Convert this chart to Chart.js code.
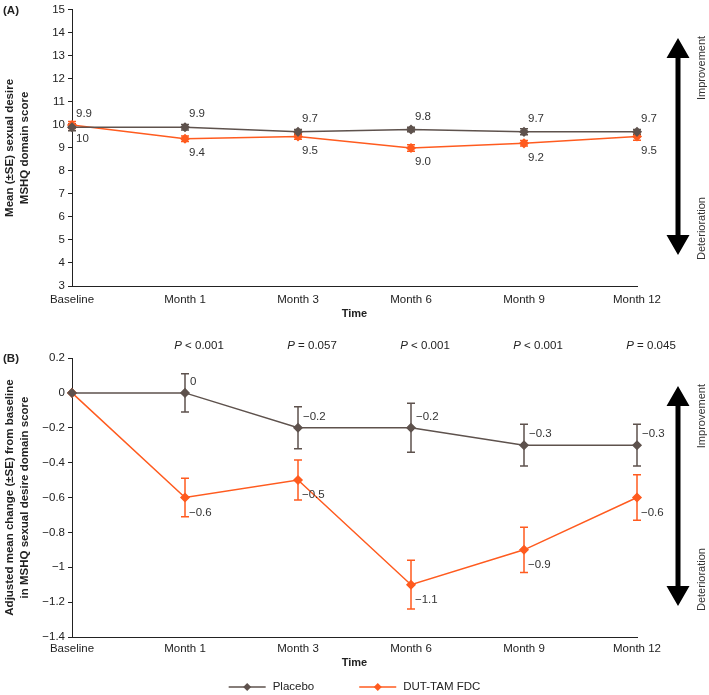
<!DOCTYPE html>
<html>
<head>
<meta charset="utf-8">
<script src="https://cdn.jsdelivr.net/npm/chart.js@4.4.0/dist/chart.umd.min.js"></script>
<style>
  html, body { margin: 0; padding: 0; background: #fff; overflow: hidden; }
  #wrap { position: relative; width: 709px; height: 695px; }
  canvas { position: absolute; left: 0; }
  #chartA { top: 0; }
  #chartB { top: 330px; }
</style>
</head>
<body>
<div id="wrap">
  <canvas id="chartA" width="709" height="330"></canvas>
  <canvas id="chartB" width="709" height="365"></canvas>
</div>
<script>
const timepoints = ['Baseline', 'Month 1', 'Month 3', 'Month 6', 'Month 9', 'Month 12'];

// (A) mean sexual desire score
const placeboMeanA = [9.9, 9.9, 9.7, 9.8, 9.7, 9.7];
const placeboSeA = [0.15, 0.12, 0.1, 0.1, 0.13, 0.1];
const placeboLabelsA = ['9.9', '9.9', '9.7', '9.8', '9.7', '9.7'];
const dutMeanA = [10, 9.4, 9.5, 9.0, 9.2, 9.5];
const dutSeA = [0.15, 0.12, 0.12, 0.14, 0.12, 0.16];
const dutLabelsA = ['10', '9.4', '9.5', '9.0', '9.2', '9.5'];

// (B) adjusted mean change from baseline
const placeboChangeB = [0, 0, -0.2, -0.2, -0.3, -0.3];
const placeboSeB = [0, 0.11, 0.12, 0.14, 0.12, 0.12];
const placeboLabelsB = ['', '0', '−0.2', '−0.2', '−0.3', '−0.3'];
const dutChangeB = [0, -0.6, -0.5, -1.1, -0.9, -0.6];
const dutSeB = [0, 0.11, 0.115, 0.14, 0.13, 0.13];
const dutLabelsB = ['', '−0.6', '−0.5', '−1.1', '−0.9', '−0.6'];
const pValuesB = ['', '< 0.001', '= 0.057', '< 0.001', '< 0.001', '= 0.045'];

const seriesNames = ['Placebo', 'DUT-TAM FDC'];

const COLOR_PLACEBO = '#5e524d';
const COLOR_DUT = '#ff5b1f';
const INK = '#222';
const FONT = '"Liberation Sans", Arial, Helvetica, sans-serif';

// vertical SE bars behind the points
const errorBars = {
  id: 'errorBars',
  beforeDatasetsDraw(chart) {
    const { ctx } = chart;
    const y = chart.scales.y;
    chart.data.datasets.forEach((ds, i) => {
      const meta = chart.getDatasetMeta(i);
      ctx.save();
      ctx.strokeStyle = ds.borderColor;
      ctx.lineWidth = 1.5;
      meta.data.forEach((pt, j) => {
        const e = ds.se[j];
        if (!e) return;
        const top = y.getPixelForValue(ds.data[j] + e);
        const bot = y.getPixelForValue(ds.data[j] - e);
        ctx.beginPath();
        ctx.moveTo(pt.x, top); ctx.lineTo(pt.x, bot);
        ctx.moveTo(pt.x - 4, top); ctx.lineTo(pt.x + 4, top);
        ctx.moveTo(pt.x - 4, bot); ctx.lineTo(pt.x + 4, bot);
        ctx.stroke();
      });
      ctx.restore();
    });
  }
};

// numeric labels next to each point
const valueLabels = {
  id: 'valueLabels',
  afterDatasetsDraw(chart) {
    const { ctx } = chart;
    chart.data.datasets.forEach((ds, i) => {
      const meta = chart.getDatasetMeta(i);
      ctx.save();
      ctx.font = '11.5px ' + FONT;
      ctx.fillStyle = '#333';
      ctx.textAlign = 'left';
      ctx.textBaseline = 'middle';
      meta.data.forEach((pt, j) => {
        const txt = ds.valueLabels[j];
        if (!txt) return;
        ctx.fillText(txt, pt.x + ds.labelDx, pt.y + ds.labelDy);
      });
      ctx.restore();
    });
  }
};

// P values above the plot
const pValues = {
  id: 'pValues',
  afterDraw(chart, args, opts) {
    if (!opts.values) return;
    const { ctx, chartArea } = chart;
    const meta = chart.getDatasetMeta(0);
    ctx.save();
    ctx.fillStyle = INK;
    ctx.textBaseline = 'middle';
    ctx.textAlign = 'left';
    opts.values.forEach((txt, j) => {
      if (!txt) return;
      const italic = 'italic 11.5px ' + FONT;
      const normal = '11.5px ' + FONT;
      ctx.font = italic;
      const wP = ctx.measureText('P ').width;
      ctx.font = normal;
      const wR = ctx.measureText(txt).width;
      const cx = meta.data[j].x + 14;
      const x0 = cx - (wP + wR) / 2;
      const y = chartArea.top - 12;
      ctx.font = italic;
      ctx.fillText('P ', x0, y);
      ctx.font = normal;
      ctx.fillText(txt, x0 + wP, y);
    });
    ctx.restore();
  }
};

// Improvement / Deterioration double arrow
const arrowGuide = {
  id: 'arrowGuide',
  afterDraw(chart) {
    const { ctx, chartArea } = chart;
    const x = chartArea.right + 41;
    const top = chartArea.top + 28;
    const bot = chartArea.bottom - 31;
    const hw = 11.5, hh = 20;
    ctx.save();
    ctx.fillStyle = '#000';
    ctx.fillRect(x - 2.5, top + hh - 1, 5, bot - top - 2 * hh + 2);
    ctx.beginPath();
    ctx.moveTo(x, top); ctx.lineTo(x + hw, top + hh); ctx.lineTo(x - hw, top + hh); ctx.closePath();
    ctx.moveTo(x, bot); ctx.lineTo(x + hw, bot - hh); ctx.lineTo(x - hw, bot - hh); ctx.closePath();
    ctx.fill();
    ctx.font = '11px ' + FONT;
    ctx.fillStyle = '#333';
    ctx.textBaseline = 'middle';
    const tx = chartArea.right + 65;
    ctx.translate(tx, 0);
    ctx.rotate(-Math.PI / 2);
    ctx.textAlign = 'right';
    ctx.fillText('Improvement', -(top - 2), 0);
    ctx.textAlign = 'left';
    ctx.fillText('Deterioration', -(bot + 5), 0);
    ctx.restore();
  }
};

// (A) / (B) tags
const panelTag = {
  id: 'panelTag',
  afterDraw(chart, args, opts) {
    const { ctx, chartArea } = chart;
    ctx.save();
    ctx.font = 'bold 11.5px ' + FONT;
    ctx.fillStyle = INK;
    ctx.textBaseline = 'middle';
    ctx.fillText(opts.text, 3, chartArea.top + 1);
    ctx.restore();
  }
};

// line + diamond legend under panel B
const lineLegend = {
  id: 'lineLegend',
  afterDraw(chart, args, opts) {
    if (!opts.show) return;
    const { ctx } = chart;
    ctx.save();
    ctx.font = '11.5px ' + FONT;
    ctx.textBaseline = 'middle';
    const sw = 37, gapText = 7, gapItem = 45;
    const items = chart.data.datasets.map(ds => ({ ds, w: ctx.measureText(ds.label).width }));
    const total = items.reduce((s, it) => s + sw + gapText + it.w, 0) + gapItem * (items.length - 1);
    let x = opts.cx - total / 2;
    const y = opts.y;
    items.forEach(it => {
      ctx.strokeStyle = it.ds.borderColor;
      ctx.fillStyle = it.ds.borderColor;
      ctx.lineWidth = 1.5;
      ctx.beginPath();
      ctx.moveTo(x, y); ctx.lineTo(x + sw, y);
      ctx.stroke();
      const mx = x + sw / 2;
      ctx.beginPath();
      ctx.moveTo(mx, y - 4); ctx.lineTo(mx + 4, y); ctx.lineTo(mx, y + 4); ctx.lineTo(mx - 4, y); ctx.closePath();
      ctx.fill();
      ctx.fillStyle = INK;
      ctx.fillText(it.ds.label, x + sw + gapText, y);
      x += sw + gapText + it.w + gapItem;
    });
    ctx.restore();
  }
};

function makeDataset(label, data, se, labels, color, dy) {
  return {
    label: label,
    data: data,
    se: se,
    valueLabels: labels,
    labelDx: dy.dx,
    labelDy: dy.dy,
    borderColor: color,
    backgroundColor: color,
    borderWidth: 1.5,
    pointStyle: 'rectRot',
    pointRadius: 4,
    pointHoverRadius: 4,
    tension: 0
  };
}

function makeChart(id, cfg) {
  return new Chart(document.getElementById(id), {
    type: 'line',
    data: { labels: timepoints, datasets: cfg.datasets },
    plugins: [errorBars, valueLabels, pValues, arrowGuide, panelTag, lineLegend],
    options: {
      responsive: false,
      animation: false,
      layout: { padding: { top: cfg.padTop, right: 72, left: 0, bottom: 0 } },
      plugins: {
        legend: { display: false },
        tooltip: { enabled: false },
        pValues: { values: cfg.pValues },
        panelTag: { text: cfg.tag },
        lineLegend: { show: cfg.legend, cx: 354.5, y: 357 }
      },
      scales: {
        x: {
          offset: false,
          grid: { display: false, drawTicks: false },
          border: { display: true, color: INK, width: 1 },
          ticks: { color: INK, font: { family: FONT, size: 11.5 }, padding: cfg.xTickPad, maxRotation: 0, autoSkip: false },
          title: { display: true, text: 'Time', color: INK, font: { family: FONT, size: 11, weight: 'bold' }, padding: { top: 0, bottom: cfg.titlePad } },
          afterFit(scale) { scale.height = cfg.xHeight; }
        },
        y: {
          min: cfg.yMin,
          max: cfg.yMax,
          ticks: {
            stepSize: cfg.yStep,
            color: INK,
            padding: 3,
            font: { family: FONT, size: 11.5 },
            callback: v => String(Math.round(v * 10) / 10).replace('-', '−')
          },
          grid: { drawOnChartArea: false, drawTicks: true, tickLength: 4, color: INK },
          border: { display: true, color: INK, width: 1 },
          title: { display: true, text: cfg.yTitle, color: INK, font: { family: FONT, size: 11.5, weight: 'bold', lineHeight: 1.25 }, padding: { top: 3, bottom: 0 } },
          afterFit(scale) { scale.width = 72; }
        }
      }
    }
  });
}

makeChart('chartA', {
  datasets: [
    makeDataset(seriesNames[0], placeboMeanA, placeboSeA, placeboLabelsA, COLOR_PLACEBO, { dx: 4, dy: -13 }),
    makeDataset(seriesNames[1], dutMeanA, dutSeA, dutLabelsA, COLOR_DUT, { dx: 4, dy: 14 })
  ],
  padTop: 7, xHeight: 44, xTickPad: 7, titlePad: 9,
  yMin: 3, yMax: 15, yStep: 1,
  yTitle: ['Mean (±SE) sexual desire', 'MSHQ domain score'],
  tag: '(A)', pValues: null, legend: false
});

makeChart('chartB', {
  datasets: [
    makeDataset(seriesNames[0], placeboChangeB, placeboSeB, placeboLabelsB, COLOR_PLACEBO, { dx: 5, dy: -11 }),
    makeDataset(seriesNames[1], dutChangeB, dutSeB, dutLabelsB, COLOR_DUT, { dx: 4, dy: 15 })
  ],
  padTop: 28, xHeight: 58, xTickPad: 5, titlePad: 25,
  yMin: -1.4, yMax: 0.2, yStep: 0.2,
  yTitle: ['Adjusted mean change (±SE) from baseline', 'in MSHQ sexual desire domain score'],
  tag: '(B)', pValues: pValuesB, legend: true
});
</script>
</body>
</html>
